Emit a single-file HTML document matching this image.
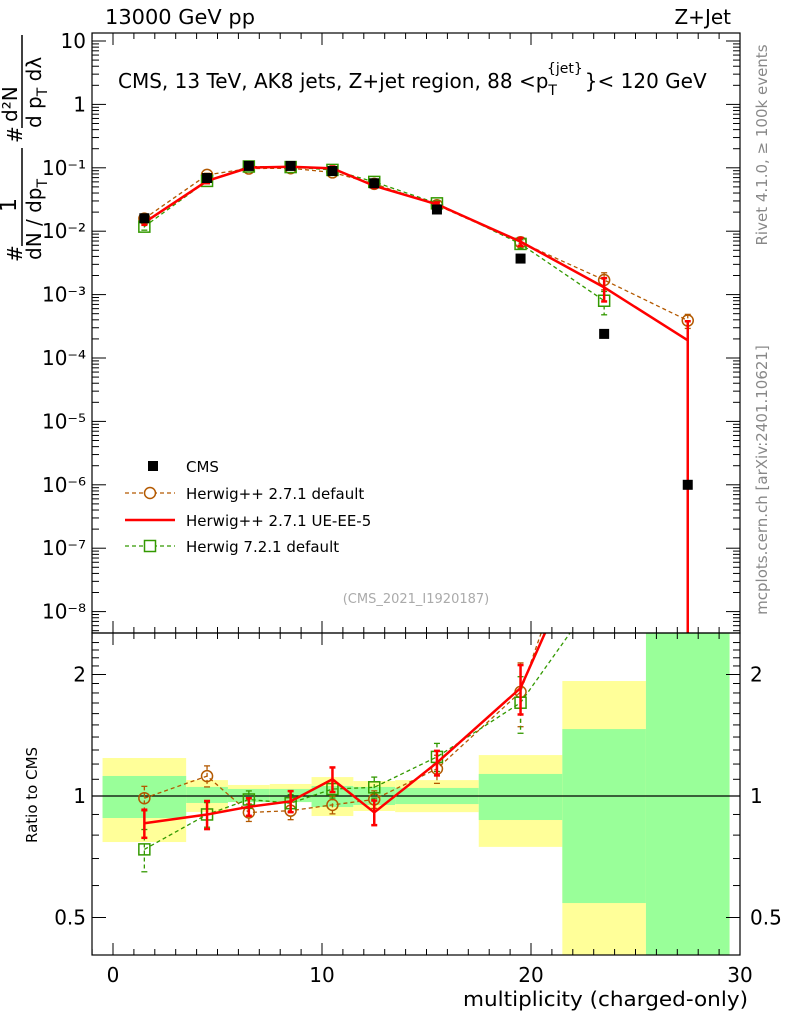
<!DOCTYPE html>
<html><head><meta charset="utf-8"><style>
body{margin:0;background:#fff;overflow:hidden}
svg{display:block;font-family:"DejaVu Sans",sans-serif}
</style></head><body>
<svg id="c" width="786" height="1024" xmlns="http://www.w3.org/2000/svg"></svg>
<script>
const binCenters=[1.5,4.5,6.5,8.5,10.5,12.5,15.5,19.5,23.5,27.5];
const binEdges=[-0.5,3.5,5.5,7.5,9.5,11.5,13.5,17.5,21.5,25.5,29.5];
const cmsValues=[0.016,0.069,0.107,0.107,0.089,0.057,0.022,0.0037,0.00024,1e-6];
const herwigDefault=[0.0158,0.0773,0.0974,0.0984,0.0846,0.0559,0.0257,0.0067,0.0017,0.00039];
const herwigDefaultErr=[0.07,0.06,0.05,0.05,0.05,0.05,0.08,0.18,0.3,0.25];
const herwigUE=[0.0137,0.0621,0.1006,0.1038,0.0979,0.0519,0.0266,0.00685,0.0013,0.00019];
const herwigUEErr=[0.08,0.08,0.05,0.06,0.07,0.07,0.07,0.14,0.4,1];
const herwig7=[0.0118,0.0621,0.1049,0.1027,0.0926,0.0599,0.0275,0.0063,0.0008,null];
const herwig7Err=[0.12,0.07,0.05,0.05,0.05,0.06,0.08,0.16,0.4,0];
const statHi=[1.121,1.053,1.041,1.041,1.059,1.053,1.047,1.134,1.465,3];
const statLo=[0.882,0.961,0.966,0.966,0.939,0.950,0.955,0.872,0.543,0.3];
const totHi=[1.242,1.095,1.065,1.071,1.114,1.089,1.095,1.263,1.927,3];
const totLo=[0.769,0.913,0.966,0.966,0.892,0.918,0.912,0.748,0.3,0.3];
const xTicks=[0,10,20,30];
const mainTicks=[1,0,-1,-2,-3,-4,-5,-6,-7,-8];
const mainTickLabels=["10","1","10⁻¹","10⁻²","10⁻³","10⁻⁴","10⁻⁵","10⁻⁶","10⁻⁷","10⁻⁸"];
const ratioTicks=[0.5,1,2];

const L=92,R=740,T=33,MB=633,RB=955;
const X=v=>113+(v)*20.9;
const YM=v=>41+(1-Math.log10(v))*63.4;
const YR=v=>796-Math.log2(v)*121.5;
const svg=document.getElementById('c');
const NS='http://www.w3.org/2000/svg';
function el(tag,attrs,name,parent){const e=document.createElementNS(NS,tag);for(const k in attrs)e.setAttribute(k,attrs[k]);


(parent||svg).appendChild(e);return e;}
function txt(s,x,y,size,name,extra,parent){const t=el('text',Object.assign({x:x,y:y,'font-size':size},extra||{}),name,parent);t.textContent=s;return t;}

const defs=el('defs',{},'defs');
const c1=el('clipPath',{id:'cm'},'clip-main',defs);el('rect',{x:L,y:T,width:R-L,height:MB-T},'clip-rect',c1);
const c2=el('clipPath',{id:'cr'},'clip-ratio',defs);el('rect',{x:L,y:MB,width:R-L,height:RB-MB},'clip-rect',c2);
const gm=el('g',{'clip-path':'url(#cm)'},'main-plot');
const gr=el('g',{'clip-path':'url(#cr)'},'ratio-plot');

for(let i=0;i<binCenters.length;i++){
  const x0=X(binEdges[i]),x1=X(binEdges[i+1]);
  el('rect',{x:x0,y:YR(totHi[i]),width:x1-x0,height:YR(totLo[i])-YR(totHi[i]),fill:'#ffff99'},'total-uncertainty-band',gr);
  el('rect',{x:x0,y:YR(statHi[i]),width:x1-x0,height:YR(statLo[i])-YR(statHi[i]),fill:'#99ff99'},'stat-uncertainty-band',gr);
}
el('line',{x1:L,x2:R,y1:YR(1),y2:YR(1),stroke:'#000','stroke-width':1.2},'ratio-one-line',gr);

function series(vals,errs,color,dash,marker,width,name){
  const pm=[],pr=[];
  vals.forEach((v,i)=>{if(v==null)return;
    const x=X(binCenters[i]);pm.push([x,YM(v)]);const r=v/cmsValues[i];pr.push([x,YR(r)]);
    const lo=Math.max(v*(1-errs[i]),1e-12);
    el('line',{x1:x,x2:x,y1:YM(v*(1+errs[i])),y2:YM(lo),stroke:color,'stroke-width':width,'stroke-dasharray':dash},name+'-error-bar',gm);
    const caps=[[gm,YM(v*(1+errs[i]))],[gm,YM(lo)]];
    if(r<2.6){
      el('line',{x1:x,x2:x,y1:YR(r*(1+errs[i])),y2:YR(Math.max(r*(1-errs[i]),1e-6)),stroke:color,'stroke-width':width,'stroke-dasharray':dash},name+'-ratio-error-bar',gr);
      caps.push([gr,YR(r*(1+errs[i]))],[gr,YR(Math.max(r*(1-errs[i]),1e-6))]);
    }
    caps.forEach(([g,yy])=>el('line',{x1:x-3,x2:x+3,y1:yy,y2:yy,stroke:color,'stroke-width':width},name+'-error-cap',g));
  });
  el('polyline',{points:pm.map(p=>p.join(',')).join(' '),fill:'none',stroke:color,'stroke-width':width,'stroke-dasharray':dash},name+'-line',gm);
  el('polyline',{points:pr.map(p=>p.join(',')).join(' '),fill:'none',stroke:color,'stroke-width':width,'stroke-dasharray':dash},name+'-ratio-line',gr);
  [[gm,pm],[gr,pr]].forEach(([g,ps])=>ps.forEach(p=>{
    if(marker=='circle')el('circle',{cx:p[0],cy:p[1],r:5.5,fill:'none',stroke:color,'stroke-width':1.5},name+'-marker',g);
    else if(marker=='square')el('rect',{x:p[0]-5.5,y:p[1]-5.5,width:11,height:11,fill:'none',stroke:color,'stroke-width':1.5},name+'-marker',g);
  }));
}
series(herwigDefault,herwigDefaultErr,'#b35900','4,3','circle',1.3,'herwigpp-default');
series(herwig7,herwig7Err,'#339900','4,3','square',1.3,'herwig7-default');
series(herwigUE,herwigUEErr,'#ff0000','none','none',2.5,'herwigpp-ue-ee-5');
cmsValues.forEach((v,i)=>el('rect',{x:X(binCenters[i])-5,y:YM(v)-5,width:10,height:10,fill:'#000'},'cms-data-point',gm));

el('rect',{x:L,y:T,width:R-L,height:MB-T,fill:'none',stroke:'#000','stroke-width':1.2},'main-frame');
el('rect',{x:L,y:MB,width:R-L,height:RB-MB,fill:'none',stroke:'#000','stroke-width':1.2},'ratio-frame');

for(let v=-1;v<=30;v++){const x=X(v);if(x<L||x>R)continue;const big=v%10==0;const h=big?12:6;
  [[MB,-1],[T,1],[RB,-1],[MB,1]].forEach(([y,d])=>el('line',{x1:x,x2:x,y1:y,y2:y+d*h,stroke:'#000'},'x-tick'));
}
xTicks.forEach(v=>txt(String(v),X(v),982,20,'x-tick-label',{'text-anchor':'middle'}));
mainTicks.forEach((e,i)=>{const y=YM(Math.pow(10,e));
  [[L,1],[R,-1]].forEach(([x,d])=>el('line',{x1:x,x2:x+d*14,y1:y,y2:y,stroke:'#000'},'y-major-tick'));
  for(let m=2;m<10;m++){const yy=YM(m*Math.pow(10,e-1));if(yy>T&&yy<MB)[[L,1],[R,-1]].forEach(([x,d])=>el('line',{x1:x,x2:x+d*7,y1:yy,y2:yy,stroke:'#000'},'y-minor-tick'));}
  txt(mainTickLabels[i],86,y+7,20,'y-tick-label',{'text-anchor':'end'});
});
for(let r=0.4;r<=2.5;r+=0.1){const y=YR(r);if(y<=MB||y>=RB)continue;const big=ratioTicks.some(t=>Math.abs(t-r)<1e-6);
  [[L,1],[R,-1]].forEach(([x,d])=>el('line',{x1:x,x2:x+d*(big?14:7),y1:y,y2:y,stroke:'#000'},'ratio-tick'));}
ratioTicks.forEach(r=>{txt(String(r),86,YR(r)+7,20,'ratio-tick-label-left',{'text-anchor':'end'});txt(String(r),750,YR(r)+7,20,'ratio-tick-label-right');});

txt('13000 GeV pp',105,24,20,'energy-label',{textLength:150,lengthAdjust:'spacingAndGlyphs'});
txt('Z+Jet',731,24,20,'process-label',{'text-anchor':'end'});
const tt=txt('',118,88,20,'plot-title');
tt.innerHTML='CMS, 13 TeV, AK8 jets, Z+jet region, 88 &lt;p<tspan font-size="14" dy="7">T</tspan><tspan font-size="14" dx="-10" dy="-22">{jet}</tspan><tspan dy="15" dx="2">}&lt; 120 GeV</tspan>';
txt('Rivet 4.1.0, ≥ 100k events',0,0,15,'rivet-label',{transform:'translate(767,145) rotate(-90)','text-anchor':'middle',fill:'#888'});
txt('mcplots.cern.ch [arXiv:2401.10621]',0,0,15,'mcplots-label',{transform:'translate(767,480) rotate(-90)','text-anchor':'middle',fill:'#888'});
txt('(CMS_2021_I1920187)',416,603,13,'analysis-id',{'text-anchor':'middle',fill:'#aaa'});
txt('Ratio to CMS',0,0,15,'ratio-y-title',{transform:'translate(37,795) rotate(-90)','text-anchor':'middle'});
txt('multiplicity (charged-only)',748,1006,20,'x-axis-title',{'text-anchor':'end',textLength:285,lengthAdjust:'spacingAndGlyphs'});

// y axis title (rotated)
const yg=el('g',{transform:'rotate(-90)'},'y-axis-title');
txt('#',-262,22,20,'y-title-hash',{},yg);
txt('1',-212,16,22,'y-title-one',{},yg);
el('line',{x1:-246,x2:-148,y1:22,y2:22,stroke:'#000','stroke-width':1.5},'y-title-bar',yg);
const d1=txt('',-260,41,20,'y-title-denominator',{},yg);
d1.innerHTML='dN / dp<tspan font-size="14" dy="6">T</tspan>';
txt('#',-143,22,20,'y-title-hash',{},yg);
el('line',{x1:-128,x2:-35,y1:22,y2:22,stroke:'#000','stroke-width':1.5},'y-title-bar',yg);
txt('d²N',-122,17,20,'y-title-numerator',{},yg);
const d2=txt('',-128,41,20,'y-title-denominator',{},yg);
d2.innerHTML='d p<tspan font-size="14" dy="6">T</tspan><tspan dy="-6"> dλ</tspan>';

const lg=[['CMS','#000','none','cms',466],['Herwig++ 2.7.1 default','#b35900','4,3','circle',493],['Herwig++ 2.7.1 UE-EE-5','#ff0000','none','line',520],['Herwig 7.2.1 default','#339900','4,3','square',546]];
lg.forEach(([s,c,d,m,y])=>{
  if(m=='cms')el('rect',{x:148,y:y-5,width:10,height:10,fill:'#000'},'legend-cms-marker');
  else{el('line',{x1:125,x2:175,y1:y,y2:y,stroke:c,'stroke-width':m=='line'?2.5:1.3,'stroke-dasharray':d},'legend-line');
    if(m=='circle')el('circle',{cx:150,cy:y,r:5.5,fill:'#fff',stroke:c,'stroke-width':1.5},'legend-marker');
    if(m=='square')el('rect',{x:144.5,y:y-5.5,width:11,height:11,fill:'#fff',stroke:c,'stroke-width':1.5},'legend-marker');}
  txt(s,186,y+6,15,'legend-entry');
});
</script>
</body></html>
